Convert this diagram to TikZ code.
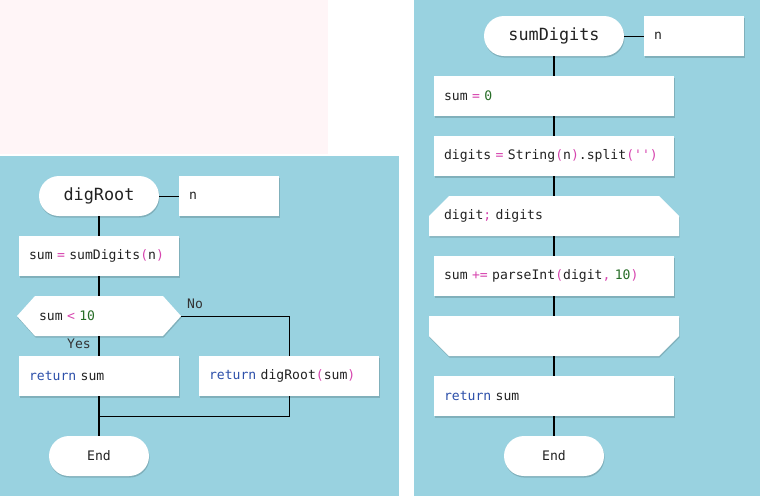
\documentclass[tikz,border=0pt]{standalone}
\usepackage{fontspec}
\setmonofont{DejaVu Sans Mono}
\usetikzlibrary{shadows}
\definecolor{bgblue}{RGB}{153,210,224}
\definecolor{bgpink}{RGB}{255,245,247}
\definecolor{kw}{RGB}{45,80,170}
\definecolor{op}{RGB}{215,70,175}
\definecolor{num}{RGB}{40,110,40}
\definecolor{txt}{RGB}{34,34,34}
\begin{document}
\begin{tikzpicture}[x=1pt,y=-1pt,
  shd/.style={drop shadow={shadow xshift=0.6pt,shadow yshift=-1.6pt,opacity=0.16,fill=black}},
  codefont/.style={font=\ttfamily\fontsize{13.1}{15}\selectfont,text=txt},
  cb/.style={rectangle,fill=white,shd,inner xsep=10pt,inner ysep=0pt,minimum height=40pt,align=left,codefont,text width=#1},
  term/.style={rectangle,rounded corners=20pt,fill=white,shd,inner sep=0pt,minimum height=40pt,minimum width=#1,text=txt},
  ghost/.style={rectangle,inner ysep=0pt,minimum height=40pt,align=left,codefont},
  mainln/.style={line width=2pt,black},
  thinln/.style={line width=1pt,black},
  lbl/.style={codefont,text=black!80,inner sep=0pt}
]
\useasboundingbox (0,0) rectangle (760,496);
\fill[white] (0,0) rectangle (760,496);
\fill[bgpink] (0,0) rectangle (328,154);
\fill[bgblue] (0,156) rectangle (399,496);
\fill[bgblue] (414,0) rectangle (760,496);

% ---------- left: digRoot ----------
\node[term=120pt,font=\ttfamily\fontsize{16.8}{18}\selectfont] (t1) at (99,196) {digRoot};
\node[cb=80pt] (p1) at (229,196) {n};
\node[cb=140pt] (s1) at (99,256) {sum \textcolor{op}{=} sumDigits\textcolor{op}{(}n\textcolor{op}{)}};
\fill[white,shd] (17,316) -- (35,296) -- (163,296) -- (181,316) -- (163,336) -- (35,336) -- cycle;
\node[ghost,minimum width=164pt,inner xsep=22pt,text width=120pt] (d1) at (99,316) {sum \textcolor{op}{<} \textcolor{num}{10}};
\node[cb=140pt] (r1) at (99,376) {\textcolor{kw}{return} sum};
\node[cb=160pt] (r2) at (289,376) {\textcolor{kw}{return} digRoot\textcolor{op}{(}sum\textcolor{op}{)}};
\node[term=100pt,codefont] (e1) at (99,456) {End};
\node[lbl,anchor=west] (no) at (187,304) {No};
\node[lbl,anchor=east] (yes) at (91,344) {Yes};
\coordinate (m1) at (99,416);

\draw[thinln] (t1.east) -- (p1.west);
\draw[mainln] (t1.south) -- (s1.north);
\draw[mainln] (s1.south) -- (d1.north);
\draw[mainln] (d1.south) -- (r1.north);
\draw[mainln] (r1.south) -- (e1.north);
\draw[thinln] (d1.east) -| (r2.north);
\draw[thinln] (r2.south) |- (m1);

% ---------- right: sumDigits ----------
\node[term=140pt,font=\ttfamily\fontsize{16.8}{18}\selectfont] (t2) at (554,36) {sumDigits};
\node[cb=80pt] (p2) at (694,36) {n};
\node[cb=220pt] (a1) at (554,96) {sum \textcolor{op}{=} \textcolor{num}{0}};
\node[cb=220pt] (a2) at (554,156) {digits \textcolor{op}{=} String\textcolor{op}{(}n\textcolor{op}{)}.split\textcolor{op}{('')}};
\fill[white,shd] (429,216) -- (449,196) -- (659,196) -- (679,216) -- (679,236) -- (429,236) -- cycle;
\node[ghost,minimum width=250pt,inner xsep=15pt,text width=220pt] (lb) at (554,216) {digit\textcolor{op}{;} digits};
\node[cb=220pt] (a3) at (554,276) {sum \textcolor{op}{+=} parseInt\textcolor{op}{(}digit\textcolor{op}{,} \textcolor{num}{10}\textcolor{op}{)}};
\fill[white,shd] (429,316) -- (679,316) -- (679,336) -- (659,356) -- (449,356) -- (429,336) -- cycle;
\node[ghost,minimum width=250pt,inner xsep=15pt,text width=220pt] (le) at (554,336) {};
\node[cb=220pt] (a4) at (554,396) {\textcolor{kw}{return} sum};
\node[term=100pt,codefont] (e2) at (554,456) {End};

\draw[thinln] (t2.east) -- (p2.west);
\draw[mainln] (t2.south) -- (a1.north);
\draw[mainln] (a1.south) -- (a2.north);
\draw[mainln] (a2.south) -- (lb.north);
\draw[mainln] (lb.south) -- (a3.north);
\draw[mainln] (a3.south) -- (le.north);
\draw[mainln] (le.south) -- (a4.north);
\draw[mainln] (a4.south) -- (e2.north);
\end{tikzpicture}
\end{document}
